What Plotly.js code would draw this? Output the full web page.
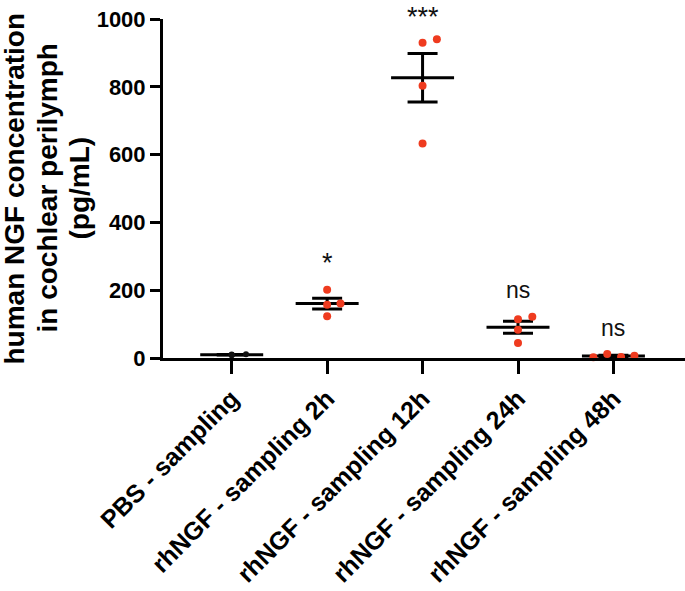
<!DOCTYPE html>
<html>
<head>
<meta charset="utf-8">
<script src="https://cdn.plot.ly/plotly-3.0.1.min.js"></script>
<style>
html,body{margin:0;padding:0;background:#fff;}
#chart{width:685px;height:591px;}
</style>
</head>
<body>
<div id="chart"></div>
<script>
// ---- data ----
const categories = [
  "PBS - sampling",
  "rhNGF - sampling 2h",
  "rhNGF - sampling 12h",
  "rhNGF - sampling 24h",
  "rhNGF - sampling 48h"
];
const pbsValues    = [9, 10, 8, 11];
const ngf2hValues  = [201, 157, 161, 123];
const ngf12hValues = [930, 940, 803, 633];
const ngf24hValues = [114, 122, 83, 44];
const ngf48hValues = [2, 12, 3, 7];
const significance = ["", "*", "***", "ns", "ns"];
const yTickValues  = [0, 200, 400, 600, 800, 1000];
const yTitleLines  = ["human NGF concentration", "in cochlear perilymph", "(pg/mL)"];

// horizontal placement of the overlapping dots (category units), like the original scatter
const dotOffsets = [
  [0, 0, 0, 0.15],
  [0, 0, 0.14, 0],
  [0, 0.15, 0, 0],
  [0, 0.15, 0, 0],
  [-0.21, -0.065, 0.08, 0.22]
];

const groups = [pbsValues, ngf2hValues, ngf12hValues, ngf24hValues, ngf48hValues];
const dotColors = ["#111111", "#ef3b1f", "#ef3b1f", "#ef3b1f", "#ef3b1f"];
const dotSizes = [6, 8, 8, 8, 8];

function mean(a){ return a.reduce((s,v)=>s+v,0)/a.length; }
function sem(a){
  const m = mean(a);
  const v = a.reduce((s,x)=>s+(x-m)*(x-m),0)/(a.length-1);
  return Math.sqrt(v)/Math.sqrt(a.length);
}

const means = groups.map(mean);
const sems = groups.map(sem);
const idx = categories.map((c,i)=>i);
const Y_MAX = 1000;

// page geometry
const W = 685, H = 591;
const M = {l: 163, r: 0, t: 19, b: 233};
const plotW = W - M.l - M.r, plotH = H - M.t - M.b;

const traces = [];

// mean lines
const mlx = [], mly = [];
idx.forEach(i => { mlx.push(i-0.33, i+0.33, null); mly.push(means[i], means[i], null); });
traces.push({
  x: mlx, y: mly, mode: "lines", type: "scatter",
  line: {color: "#000", width: 3}, hoverinfo: "skip", showlegend: false, cliponaxis: false
});

// SEM error bars
traces.push({
  x: idx, y: means, mode: "markers", type: "scatter",
  marker: {size: 1, color: "rgba(0,0,0,0)"},
  error_y: {type: "data", array: sems, visible: true, color: "#000", thickness: 3, width: 15},
  showlegend: false, hoverinfo: "skip", cliponaxis: false
});

// individual dots
groups.forEach((vals, g) => {
  traces.push({
    x: vals.map((v,k)=> g + dotOffsets[g][k]),
    y: vals,
    mode: "markers", type: "scatter",
    marker: {size: dotSizes[g], color: dotColors[g]},
    showlegend: false, cliponaxis: false
  });
});

const FONT = "Liberation Sans, Arial, Helvetica, sans-serif";

// significance labels above each group; kept inside the page at the top
const paperTop = 1 + M.t / plotH;
const annotations = idx.filter(i=>significance[i]).map(i => {
  const isStar = significance[i].indexOf("*") >= 0;
  const size = isStar ? 27 : 23;
  const halfBox = (size * 1.15) / 2 + 1;
  const yTopPaper = (Math.max(...groups[i]) + 80) / Y_MAX + halfBox / plotH;
  return {
    x: i, xref: "x",
    y: Math.min(yTopPaper, paperTop), yref: "paper",
    text: significance[i], showarrow: false, yanchor: "top",
    font: {family: FONT, size: size, color: "#111"}
  };
});

// y-axis title as three rotated lines
const titleCenters = [14, 47, 79];
yTitleLines.forEach((t, k) => {
  annotations.push({
    x: (titleCenters[k] - M.l) / plotW, xref: "paper",
    y: 0.5, yref: "paper",
    text: t, showarrow: false, textangle: -90,
    xanchor: "center", yanchor: "middle",
    font: {family: FONT, size: 28, weight: "bold", color: "#000"}
  });
});

const layout = {
  width: W, height: H,
  margin: M,
  paper_bgcolor: "#fff", plot_bgcolor: "#fff",
  showlegend: false,
  font: {family: FONT, color: "#000"},
  xaxis: {
    range: [-0.72, 4.75],
    tickmode: "array", tickvals: idx, ticktext: categories,
    tickangle: -45,
    showline: true, linecolor: "#000", linewidth: 3,
    ticks: "outside", ticklen: 13, tickwidth: 3, tickcolor: "#000",
    showgrid: false, zeroline: false,
    tickfont: {family: FONT, size: 25, weight: "bold", color: "#000"},
    fixedrange: true
  },
  yaxis: {
    range: [0, Y_MAX],
    tickmode: "array", tickvals: yTickValues,
    showline: true, linecolor: "#000", linewidth: 3,
    ticks: "outside", ticklen: 10, tickwidth: 3, tickcolor: "#000",
    showgrid: false, zeroline: false,
    tickfont: {family: FONT, size: 22, weight: "bold", color: "#000"},
    fixedrange: true
  },
  annotations: annotations
};

Plotly.newPlot("chart", traces, layout, {displayModeBar: false, staticPlot: true});
</script>
</body>
</html>
